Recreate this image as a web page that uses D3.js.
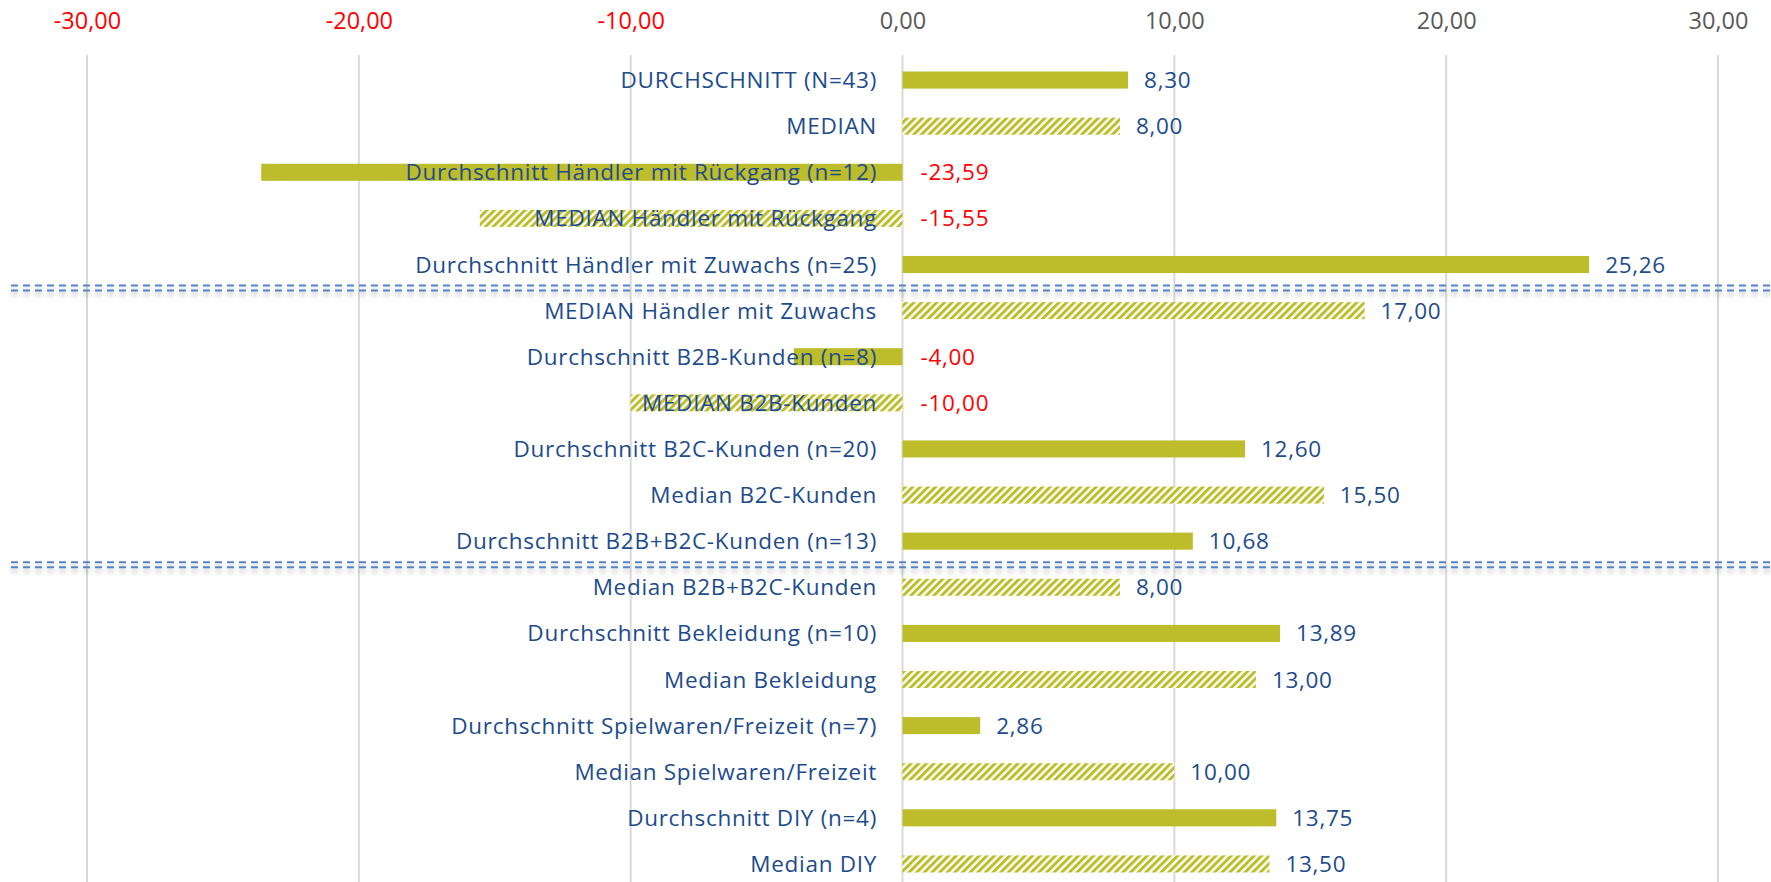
<!DOCTYPE html>
<html>
<head>
<meta charset="utf-8">
<script src="https://cdn.jsdelivr.net/npm/d3@7"></script>
<style>
  body { margin: 0; background: #fff; }
  svg { display: block; }
  text { font-family: "Open Sans", "Liberation Sans", Arial, sans-serif; }
</style>
</head>
<body>
<div id="chart"></div>
<script>
// ---------- data ----------
const categories = [
    "DURCHSCHNITT (N=43)",
    "MEDIAN",
    "Durchschnitt Händler mit Rückgang (n=12)",
    "MEDIAN Händler mit Rückgang",
    "Durchschnitt Händler mit Zuwachs (n=25)",
    "MEDIAN Händler mit Zuwachs",
    "Durchschnitt B2B-Kunden (n=8)",
    "MEDIAN B2B-Kunden",
    "Durchschnitt B2C-Kunden (n=20)",
    "Median B2C-Kunden",
    "Durchschnitt B2B+B2C-Kunden (n=13)",
    "Median B2B+B2C-Kunden",
    "Durchschnitt Bekleidung (n=10)",
    "Median Bekleidung",
    "Durchschnitt Spielwaren/Freizeit (n=7)",
    "Median Spielwaren/Freizeit",
    "Durchschnitt DIY (n=4)",
    "Median DIY"
];
const values = [8.30, 8.00, -23.59, -15.55, 25.26, 17.00, -4.00, -10.00, 12.60, 15.50,
    10.68, 8.00, 13.89, 13.00, 2.86, 10.00, 13.75, 13.50];
const tickValues = [-30, -20, -10, 0, 10, 20, 30];
// dashed separator sits above these rows
const groupBreaks = ["MEDIAN Händler mit Zuwachs", "Median B2B+B2C-Kunden"];

const rows = categories.map((c, i) => ({ cat: c, value: values[i], median: /^median/i.test(c) }));

// ---------- layout ----------
const width = 1771, height = 882;
const olive = "#bdbd2b";
const blue = "#1d4c8c";
const red = "#ff0000";

const de = d3.formatLocale({ decimal: ",", thousands: ".", grouping: [3], currency: ["", " €"], minus: "-" });
const fmt = de.format(".2f");

const svg = d3.select("#chart").append("svg")
    .attr("width", width)
    .attr("height", height);

const defs = svg.append("defs");
const pat = defs.append("pattern")
    .attr("id", "hatch")
    .attr("patternUnits", "userSpaceOnUse")
    .attr("width", 5.4)
    .attr("height", 5.4)
    .attr("patternTransform", "rotate(45)");
pat.append("rect").attr("width", 5.4).attr("height", 5.4).attr("fill", "#fff");
pat.append("rect").attr("width", 3).attr("height", 5.4).attr("fill", olive);

const shadow = defs.append("filter").attr("id", "sepShadow")
    .attr("x", "-5%").attr("y", "-300%").attr("width", "110%").attr("height", "700%");
shadow.append("feDropShadow")
    .attr("dx", 0).attr("dy", 4).attr("stdDeviation", 2)
    .attr("flood-color", "#000").attr("flood-opacity", 0.25);

const x = d3.scaleLinear().domain([-30, 30]).range([87, 1718]);
const y = d3.scaleBand().domain(categories).range([57, 887])
    .paddingInner(0.63).paddingOuter(0.315);

// ---------- gridlines + top axis ----------
svg.append("g").selectAll("line")
    .data(tickValues)
    .join("line")
    .attr("x1", d => x(d)).attr("x2", d => x(d))
    .attr("y1", 55).attr("y2", height)
    .attr("stroke", "#d9d9d9")
    .attr("stroke-width", 2);

const axis = svg.append("g")
    .attr("transform", "translate(0,21)")
    .call(d3.axisTop(x).tickValues(tickValues).tickFormat(fmt).tickSize(0).tickPadding(0));
axis.select(".domain").remove();
axis.selectAll("text")
    .attr("dy", "0.35em")
    .style("font-size", "23.5px")
    .style("font-family", "'Open Sans', 'Liberation Sans', Arial, sans-serif")
    .attr("fill", d => d < 0 ? red : "#595959");

// ---------- bars ----------
svg.append("g").selectAll("rect")
    .data(rows)
    .join("rect")
    .attr("x", d => x(Math.min(0, d.value)))
    .attr("y", d => y(d.cat))
    .attr("width", d => Math.abs(x(d.value) - x(0)))
    .attr("height", y.bandwidth())
    .attr("fill", d => d.median ? "url(#hatch)" : olive);

// ---------- separators ----------
const sep = svg.append("g").attr("filter", "url(#sepShadow)");
groupBreaks.forEach(c => {
    const yy = y(c) - y.step() * y.paddingInner() / 2;
    [-2, 3].forEach(off => {
        sep.append("line")
            .attr("x1", 11).attr("x2", width)
            .attr("y1", yy + off).attr("y2", yy + off)
            .attr("stroke", "#5584c8")
            .attr("stroke-width", 2)
            .attr("stroke-dasharray", "7 5");
    });
});

// ---------- category labels ----------
svg.append("g").selectAll("text")
    .data(rows)
    .join("text")
    .attr("x", 877)
    .attr("y", d => y(d.cat) + y.bandwidth() / 2)
    .attr("dy", "0.36em")
    .attr("text-anchor", "end")
    .style("font-size", "22.5px")
    .style("letter-spacing", "0.7px")
    .attr("fill", blue)
    .text(d => d.cat);

// ---------- value labels ----------
svg.append("g").selectAll("text")
    .data(rows)
    .join("text")
    .attr("x", d => x(Math.max(0, d.value)) + (d.value < 0 ? 18 : 16))
    .attr("y", d => y(d.cat) + y.bandwidth() / 2)
    .attr("dy", "0.36em")
    .style("font-size", "22.5px")
    .style("letter-spacing", "0.7px")
    .attr("fill", d => d.value < 0 ? red : blue)
    .text(d => fmt(d.value));
</script>
</body>
</html>
